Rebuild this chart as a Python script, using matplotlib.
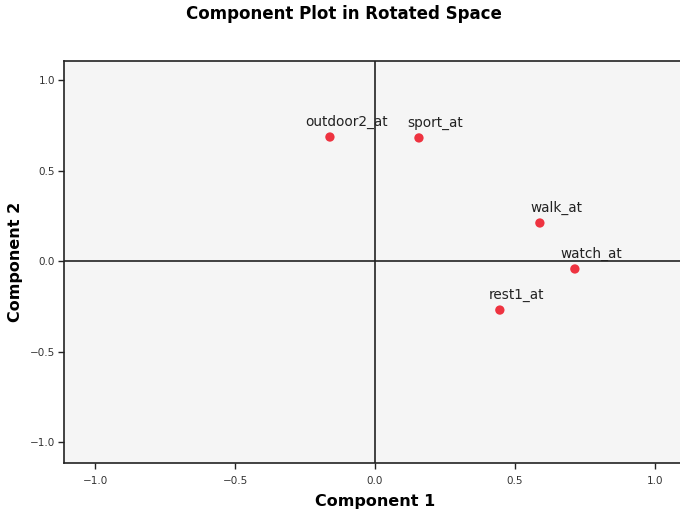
import matplotlib
matplotlib.use("Agg")
import matplotlib.pyplot as plt

labels = ["outdoor2_at", "sport_at", "walk_at", "watch_at", "rest1_at"]
comp1 = [-0.161, 0.157, 0.589, 0.714, 0.446]
comp2 = [0.685, 0.680, 0.210, -0.044, -0.271]
ticks = [-1.0, -0.5, 0.0, 0.5, 1.0]

plt.rcParams['font.family'] = ['DejaVu Sans']
fig = plt.figure(figsize=(6.8, 5.12), dpi=100)
ax = fig.add_axes([64/680, 49/512, 622/680, 402/512])
ax.set_facecolor("#f5f5f5")
ax.set_xlim(-1.111, 1.111)
ax.set_ylim(-1.116, 1.105)
ax.axhline(0, color="#222222", lw=1.2, zorder=1)
ax.axvline(0, color="#222222", lw=1.2, zorder=1)
ax.scatter(comp1, comp2, s=45, color="#ee3340", zorder=3, edgecolors="none")
for lab, x, y in zip(labels, comp1, comp2):
    ax.annotate(lab, (x, y), xytext=(12, 5.5), textcoords="offset points",
                ha="center", va="bottom", fontsize=9.8, color="#222222")
ax.set_xticks(ticks)
ax.set_yticks(ticks)
ax.set_xticklabels([f"{t:.1f}".replace("-", "\u2212") for t in ticks])
ax.set_yticklabels([f"{t:.1f}".replace("-", "\u2212") for t in ticks])
ax.tick_params(direction="out", length=4.5, width=1, colors="#222222",
               labelsize=7.5, labelcolor="#333333")
ax.tick_params(axis="x", pad=4.5)
ax.tick_params(axis="y", pad=2)
for s in ax.spines.values():
    s.set_color("#222222")
    s.set_linewidth(1.2)
ax.set_xlabel("Component 1", fontsize=11.5, fontweight="bold", labelpad=6)
ax.set_ylabel("Component 2", fontsize=11.5, fontweight="bold", labelpad=5)
fig.text(344/680, 1 - 14/512, "Component Plot in Rotated Space", ha="center", va="center",
         fontsize=12, fontweight="bold")
fig.savefig("out.png", dpi=100)
